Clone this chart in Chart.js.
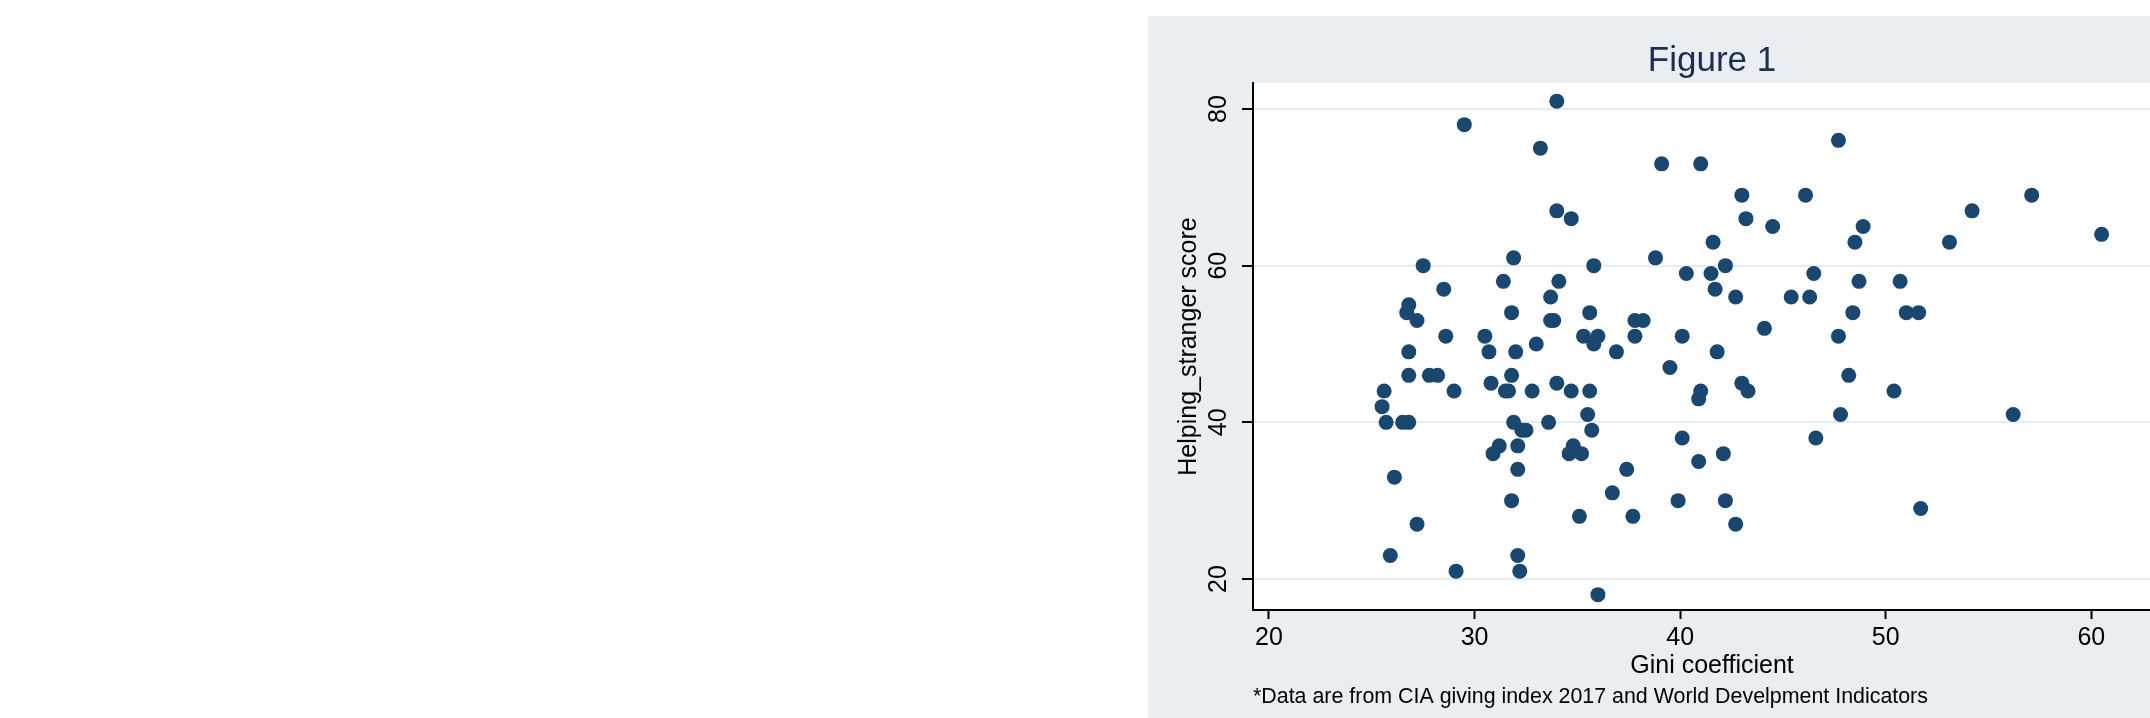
<!DOCTYPE html>
<html>
<head>
<meta charset="utf-8">
<script src="https://cdn.jsdelivr.net/npm/chart.js@4.4.1/dist/chart.umd.min.js"></script>
<style>
  html, body { margin: 0; padding: 0; background: #ffffff; width: 2150px; height: 718px; overflow: hidden; }
  #panel { position: absolute; left: 1148px; top: 16px; width: 1060px; height: 702px; background: #e8eef1; }
  #chart { display: block; }
</style>
</head>
<body>
<div id="panel"><canvas id="chart" width="1060" height="702"></canvas></div>
<script>
// ---- data ----
const gini = [
  34.0, 29.5, 47.7, 33.2, 39.1, 41.0, 63.4,
  43.0, 46.1, 57.1, 34.0, 54.2, 34.7, 43.2, 44.5, 48.9, 60.5,
  41.6, 48.5, 53.1, 31.9, 38.8, 27.5, 35.8, 42.2, 40.3, 41.5, 46.5,
  31.4, 34.1, 48.7, 50.7, 28.5, 41.7, 33.7, 42.7, 45.4, 46.3, 26.8,
  26.7, 31.8, 35.6, 48.4, 51.0, 51.6, 27.2, 33.7, 33.85, 37.8, 38.2, 44.1,
  28.6, 30.5, 35.3, 36.0, 37.8, 40.1, 47.7, 33.0, 35.8,
  26.8, 30.7, 32.0, 36.9, 41.8, 39.5, 26.8, 27.8, 28.2, 31.8, 48.2, 30.8, 34.0, 43.0,
  25.6, 29.0, 31.5, 31.65, 32.8, 34.7, 35.6, 41.0, 43.3, 50.4, 40.9, 25.5,
  35.5, 47.8, 56.2, 25.7, 26.5, 26.8, 31.9, 33.6, 32.3, 32.5, 35.7, 40.1, 46.6,
  31.2, 32.1, 34.8, 30.9, 34.6, 35.2, 42.1, 40.9, 32.1, 37.4, 26.1, 36.7,
  31.8, 39.9, 42.2, 51.7, 35.1, 37.7, 27.2, 42.7, 25.9, 32.1, 29.1, 32.2, 36.0
];
const helping = [
  81, 78, 76, 75, 73, 73, 72,
  69, 69, 69, 67, 67, 66, 66, 65, 65, 64,
  63, 63, 63, 61, 61, 60, 60, 60, 59, 59, 59,
  58, 58, 58, 58, 57, 57, 56, 56, 56, 56, 55,
  54, 54, 54, 54, 54, 54, 53, 53, 53, 53, 53, 52,
  51, 51, 51, 51, 51, 51, 51, 50, 50,
  49, 49, 49, 49, 49, 47, 46, 46, 46, 46, 46, 45, 45, 45,
  44, 44, 44, 44, 44, 44, 44, 44, 44, 44, 43, 42,
  41, 41, 41, 40, 40, 40, 40, 40, 39, 39, 39, 38, 38,
  37, 37, 37, 36, 36, 36, 36, 35, 34, 34, 33, 31,
  30, 30, 30, 29, 28, 28, 27, 27, 23, 23, 21, 21, 18
];
const xTicks = [20, 30, 40, 50, 60];
const yTicks = [20, 40, 60, 80];
const titleText = 'Figure 1';
const xTitle = 'Gini coefficient';
const yTitle = 'Helping_stranger score';
const noteText = '*Data are from CIA giving index 2017 and World Develpment Indicators';

// ---- chart ----
const FONT = '"Liberation Sans", Arial, Helvetica, sans-serif';
Chart.defaults.font.family = FONT;
Chart.defaults.color = '#000000';

const points = gini.map((g, i) => ({ x: g, y: helping[i] }));

const plotBg = {
  id: 'plotBg',
  beforeDraw(chart) {
    const a = chart.chartArea, ctx = chart.ctx;
    ctx.save();
    ctx.fillStyle = '#ffffff';
    ctx.fillRect(a.left, a.top, a.right - a.left, a.bottom - a.top);
    ctx.restore();
  }
};

new Chart(document.getElementById('chart'), {
  type: 'scatter',
  data: {
    datasets: [{
      data: points,
      backgroundColor: '#1a476f',
      borderColor: '#1a476f',
      borderWidth: 0,
      pointRadius: 7.5,
      pointHoverRadius: 7.5
    }]
  },
  options: {
    responsive: false,
    animation: false,
    devicePixelRatio: 1,
    layout: { padding: { left: 0, right: 37, top: 0, bottom: 0 } },
    plugins: {
      legend: { display: false },
      tooltip: { enabled: false },
      title: {
        display: true,
        text: titleText,
        fullSize: false,
        color: '#1e2d50',
        font: { size: 35, weight: 'normal', family: FONT, lineHeight: 1.2 },
        padding: { top: 24.5, bottom: 0.5 }
      },
      subtitle: {
        display: true,
        text: noteText,
        position: 'bottom',
        align: 'start',
        fullSize: false,
        color: '#000000',
        font: { size: 21.4, weight: 'normal', family: FONT, lineHeight: 1.2 },
        padding: { top: 0, bottom: 8.3 }
      }
    },
    scales: {
      x: {
        type: 'linear',
        min: 19.222,
        max: 63.876,
        afterBuildTicks: s => { s.ticks = xTicks.map(v => ({ value: v })); },
        afterFit: s => { s.height = 74.0; },
        grid: { drawOnChartArea: false, drawTicks: true, tickLength: 9, tickColor: '#000000', tickWidth: 2 },
        border: { display: true, color: '#000000', width: 2 },
        ticks: { padding: 4, font: { size: 25 }, color: '#000000', maxRotation: 0, minRotation: 0 },
        title: { display: true, text: xTitle, font: { size: 25, lineHeight: 1.2 }, color: '#000000', padding: { top: 0, bottom: 3.0 } }
      },
      y: {
        type: 'linear',
        min: 16.04,
        max: 83.32,
        afterBuildTicks: s => { s.ticks = yTicks.map(v => ({ value: v })); },
        afterFit: s => { s.width = 105; },
        grid: { color: '#e6ecee', lineWidth: 2, drawTicks: true, tickLength: 11, tickColor: '#000000', tickWidth: 2 },
        border: { display: true, color: '#000000', width: 2 },
        ticks: { padding: 8.6, font: { size: 25 }, color: '#000000', minRotation: 90, maxRotation: 90, crossAlign: 'center' },
        title: { display: true, text: yTitle, font: { size: 25, lineHeight: 1.2 }, color: '#000000', padding: { top: 26, bottom: 0 } }
      }
    }
  },
  plugins: [plotBg]
});
</script>
</body>
</html>
